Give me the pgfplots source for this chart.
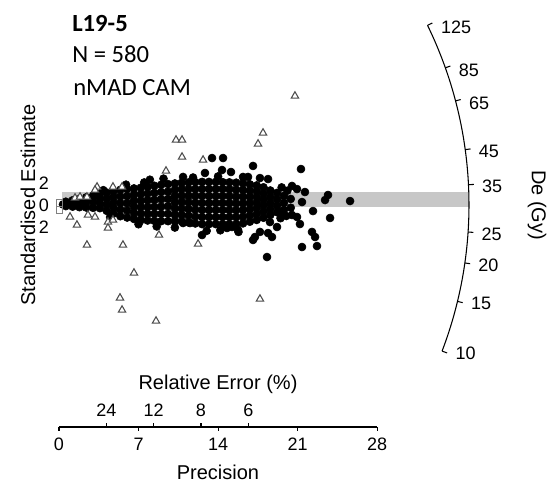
\documentclass[border=0pt]{standalone}
\usepackage{fontspec}
\setmainfont{Liberation Sans}
\newfontfamily\carlito{Carlito}
\usepackage{pgfplots}
\pgfplotsset{compat=1.18}
\definecolor{band}{gray}{0.78}
\definecolor{tri}{gray}{0.3}

\begin{document}
\begin{tikzpicture}
\begin{axis}[
  x=8.52pt, y=8.25pt,
  xmin=0, xmax=28, ymin=-20.18, ymax=17.4,
  axis x line*=bottom, axis y line=none,
  xtick={0,7,14,21,28}, xticklabels={0,7,14,21,28},
  xtick align=outside, major tick length=3pt,
  every tick/.style={black, line width=0.8pt},
  axis line style={line width=0.8pt},
  tick label style={font=\fontsize{13.5}{15}\selectfont, yshift=-2pt},
  /pgf/number format/assume math mode=true,
  clip=false,
]
\coordinate (O) at (axis cs:0,0);
% grey band of the central value
\fill[band] (axis cs:0.3,-0.18) rectangle (axis cs:36.05,1.18);

% dense body of accepted values
\addplot[only marks, mark=*, mark size=3pt, black] coordinates {
(0.35,0.05) (0.6,-0.1) (0.6,0.3)
(1.2,-0.15) (1.2,0.15) (1.2,0.43)
(1.8,-0.2) (1.8,0.17) (1.8,0.55)
(2.4,-0.23) (2.4,0.23) (2.4,0.7)
(3.0,-0.26) (3.0,0.3) (3.0,0.85)
(3.6,-0.29) (3.6,0.15) (3.6,0.58) (3.6,1.0)
(4.2,-0.53) (4.2,0.03) (4.2,0.58) (4.2,1.13)
(4.8,-0.78) (4.8,-0.27) (4.8,0.24) (4.8,0.75) (4.8,1.26)
(5.4,-1.02) (5.4,-0.42) (5.4,0.18) (5.4,0.78) (5.4,1.38)
(6.0,-1.14) (6.0,-0.5) (6.0,0.15) (6.0,0.8) (6.0,1.44)
(6.6,-1.27) (6.6,-0.71) (6.6,-0.16) (6.6,0.4) (6.6,0.95) (6.6,1.51)
(7.2,-1.38) (7.2,-0.79) (7.2,-0.2) (7.2,0.39) (7.2,0.98) (7.2,1.57)
(7.8,-1.41) (7.8,-0.8) (7.8,-0.2) (7.8,0.43) (7.8,1.05) (7.8,1.66)
(8.4,-1.44) (8.4,-0.8) (8.4,-0.17) (8.4,0.47) (8.4,1.11) (8.4,1.75)
(9.0,-1.47) (9.0,-0.81) (9.0,-0.15) (9.0,0.52) (9.0,1.18) (9.0,1.84)
(9.6,-1.47) (9.6,-0.8) (9.6,-0.12) (9.6,0.55) (9.6,1.22) (9.6,1.9)
(10.2,-1.47) (10.2,-0.9) (10.2,-0.32) (10.2,0.25) (10.2,0.82) (10.2,1.39) (10.2,1.96)
(10.8,-1.49) (10.8,-0.9) (10.8,-0.32) (10.8,0.27) (10.8,0.85) (10.8,1.44) (10.8,2.02)
(11.4,-1.58) (11.4,-0.97) (11.4,-0.37) (11.4,0.24) (11.4,0.84) (11.4,1.45) (11.4,2.05)
(12.0,-1.68) (12.0,-1.05) (12.0,-0.42) (12.0,0.2) (12.0,0.83) (12.0,1.45) (12.0,2.08)
(12.6,-1.74) (12.6,-1.1) (12.6,-0.46) (12.6,0.18) (12.6,0.82) (12.6,1.46) (12.6,2.1)
(13.2,-1.74) (13.2,-1.1) (13.2,-0.46) (13.2,0.18) (13.2,0.82) (13.2,1.46) (13.2,2.1)
(13.8,-1.74) (13.8,-1.1) (13.8,-0.46) (13.8,0.18) (13.8,0.82) (13.8,1.46) (13.8,2.1)
(14.4,-1.74) (14.4,-1.1) (14.4,-0.46) (14.4,0.18) (14.4,0.82) (14.4,1.46) (14.4,2.08)
(15.0,-1.74) (15.0,-1.1) (15.0,-0.47) (15.0,0.16) (15.0,0.8) (15.0,1.43) (15.0,2.06)
(15.6,-1.74) (15.6,-1.11) (15.6,-0.48) (15.6,0.15) (15.6,0.77) (15.6,1.4) (15.6,2.03)
(16.2,-1.67) (16.2,-1.06) (16.2,-0.45) (16.2,0.15) (16.2,0.76) (16.2,1.37) (16.2,1.97)
(16.8,-1.52) (16.8,-0.95) (16.8,-0.38) (16.8,0.18) (16.8,0.75) (16.8,1.31) (16.8,1.88)
(17.4,-1.36) (17.4,-0.83) (17.4,-0.3) (17.4,0.21) (17.4,0.73) (17.4,1.26) (17.4,1.78)
(18.0,-1.16) (18.0,-0.6) (18.0,-0.05) (18.0,0.5) (18.0,1.05) (18.0,1.61)
(18.6,-0.91) (18.6,-0.35) (18.6,0.2) (18.6,0.76) (18.6,1.32)
(19.2,-0.66) (19.2,-0.07) (19.2,0.52) (19.2,1.11)
(19.8,-0.45) (19.8,0.19) (19.8,0.83)
(20.4,-0.25) (20.4,0.55)
% uneven edge of the body
(3.9,1.35) (5.9,1.85) (7.5,2.05) (8.0,2.3) (9.2,2.4) (11.8,2.5) (14.0,2.6)
(16.2,2.55) (19.6,1.6) (20.1,1.3) (4.5,-1.1) (7.0,-1.75) (8.6,-1.95)
(10.2,-2.05) (13.0,-2.35) (14.2,-2.3) (15.8,-2.45) (19.5,-1.2) (20.0,-1.0)
% scattered accepted values
(13.47,4.27) (14.44,4.27) (14.35,3.18) (15.14,3.0) (17.08,3.55)
(16.64,2.55) (17.69,2.45) (12.85,2.91) (10.92,2.55) (21.30,3.27)
(18.40,2.36) (20.51,1.73) (20.95,1.45) (21.65,1.18) (23.68,0.91)
(23.42,0.45) (25.62,0.36) (21.39,0.27) (22.36,-0.55) (23.86,-1.18)
(21.21,-1.73) (22.27,-2.45) (22.54,-2.91) (21.39,-3.82) (22.71,-3.73)
(18.31,-4.73) (18.57,-1.55) (19.19,-2.0) (18.40,-2.55) (18.75,-2.91)
(20.51,-0.91) (20.95,-1.09) (19.45,-0.64) (17.25,-2.91) (17.08,-3.18)
(17.69,-2.45) (15.76,-2.27) (15.23,-2.0) (14.79,-2.09) (12.59,-2.73)
(11.53,-1.64) (10.92,-1.64)
};

% rejected values
\addplot[only marks, mark=triangle*, mark size=3.2pt, draw=tri, fill=white,
  line width=0.8pt] coordinates {
(20.77,9.91) (10.30,5.91) (10.83,5.91) (10.83,4.36) (9.42,3.09)
(12.68,4.09) (17.52,5.55) (17.96,6.55) (1.41,0.64) (1.85,0.73)
(2.46,0.73) (3.35,1.64) (3.17,1.36) (4.75,1.64) (5.55,1.64)
(0.97,-1.09) (1.58,-1.82) (2.46,-3.64) (5.63,-3.64) (6.60,-6.18)
(5.37,-8.45) (5.55,-9.55) (8.54,-10.55) (8.80,-2.73) (2.55,-0.91)
(3.17,-1.09) (4.31,-1.55) (4.75,-1.36) (4.31,-2.09) (12.24,-3.55)
(17.69,-8.55)
};
\end{axis}

% short bracket at the origin
\draw[gray, line width=0.5pt] ([shift={(-2.25pt,-6pt)}]O) rectangle ([shift={(2.25pt,4.5pt)}]O);
\draw[gray, line width=0.5pt] ([shift={(-2.25pt,-0.75pt)}]O) -- ([shift={(2.25pt,-0.75pt)}]O);

% standardised estimate scale
\foreach \yv/\lab in {16.5/2, 0/0, -16.5/2}
  \node[font=\fontsize{13.5}{15}\selectfont] at ([shift={(-11.25pt,\yv pt)}]O) {\lab};
\node[rotate=90, font=\fontsize{15}{17}\selectfont] at ([shift={(-23.25pt,0pt)}]O) {Standardised Estimate};

% relative error scale on the precision axis
\foreach \xv/\lab in {35.5/24, 71.0/12, 106.5/8, 142.0/6} {
  \draw[line width=0.8pt] ([shift={(\xv pt,-166.5pt)}]O) -- ++(0,3pt);
  \node[font=\fontsize{13.5}{15}\selectfont] at ([shift={(\xv pt,-153.75pt)}]O) {\lab};
}
\node[anchor=base, font=\fontsize{15}{17}\selectfont] at ([shift={(119.25pt,-138pt)}]O) {Relative Error (\%)};
\node[anchor=base, font=\fontsize{15}{17}\selectfont] at ([shift={(119.25pt,-206pt)}]O) {Precision};

% radial De scale
\draw[line width=0.8pt] (O) ++(25.99:307.5pt) arc[start angle=25.99, end angle=-20.87, radius=307.5pt];
\foreach \v/\a in {125/25.99, 85/19.55, 65/14.71, 45/7.76, 35/2.84, 25/-3.78, 20/-8.13, 15/-13.6, 10/-20.87} {
  \draw[line width=0.8pt] (O) ++(\a:307.5pt) -- ++(\a:4pt);
  \path (O) ++(\a:307.5pt) node[anchor=west, inner sep=0pt, xshift=10pt, yshift=-1.5pt, font=\fontsize{13.5}{15}\selectfont] {\v};
}
\node[rotate=-90, font=\fontsize{15}{17}\selectfont] at ([shift={(358.5pt,0pt)}]O) {De (Gy)};

% sample labels
\node[anchor=base west, inner sep=0pt, font=\carlito\bfseries\fontsize{18.5}{20}\selectfont] at ([shift={(9.75pt,129.75pt)}]O) {L19-5};
\node[anchor=base west, inner sep=0pt, font=\carlito\fontsize{18.5}{20}\selectfont] at ([shift={(9.75pt,106.5pt)}]O) {N = 580};
\node[anchor=base west, inner sep=0pt, font=\carlito\fontsize{18.5}{20}\selectfont] at ([shift={(10.5pt,82.5pt)}]O) {nMAD CAM};

\pgfresetboundingbox
\path[use as bounding box] ([shift={(-44.25pt,-208.5pt)}]O) rectangle ([shift={(370.5pt,153.75pt)}]O);
\end{tikzpicture}
\end{document}
